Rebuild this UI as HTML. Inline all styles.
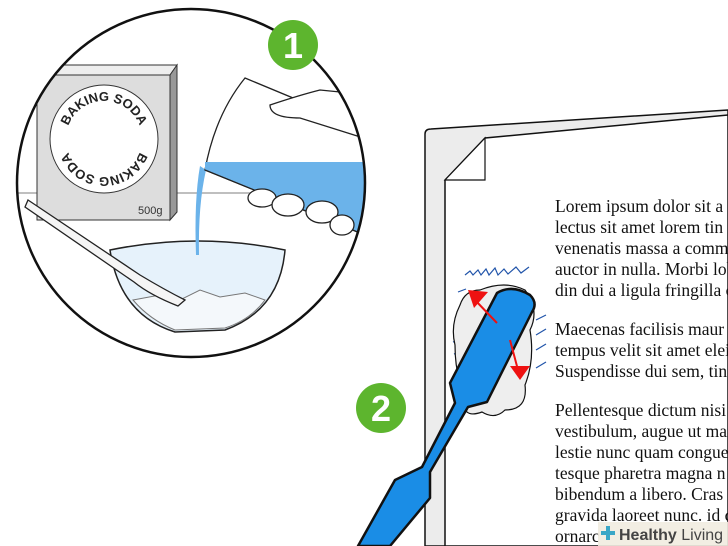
<!DOCTYPE html>
<html><head><meta charset="utf-8"><style>
html,body{margin:0;padding:0;background:#fff}
svg{display:block}
.t{font-family:"Liberation Serif",serif;font-size:17.5px;fill:#111}
</style></head><body>
<svg width="728" height="546" viewBox="0 0 728 546" xmlns="http://www.w3.org/2000/svg">
<defs><clipPath id="c"><circle cx="191" cy="183" r="174"/></clipPath></defs>
<g clip-path="url(#c)">
<rect x="0" y="0" width="400" height="400" fill="#fff"/>
<line x1="0" y1="193" x2="400" y2="193" stroke="#aaa" stroke-width="1.5"/>
<polygon points="37,75 170,75 177,65 44,65" fill="#eee" stroke="#333" stroke-width="1"/>
<polygon points="170,75 177,65 177,212 170,220" fill="#999" stroke="#333" stroke-width="1"/>
<rect x="37" y="75" width="133" height="145" fill="#ddd" stroke="#333" stroke-width="1"/>
<circle cx="104" cy="139" r="54" fill="#fff" stroke="#333" stroke-width="1"/>
<path id="arcT" d="M66,139 A38,38 0 0 1 142,139" fill="none"/>
<path id="arcB" d="M142,139 A38,38 0 0 1 66,139" fill="none"/>
<text font-family="Liberation Sans,sans-serif" font-size="13" font-weight="bold" fill="#222"><textPath href="#arcT" startOffset="50%" text-anchor="middle">BAKING SODA</textPath></text>
<text font-family="Liberation Sans,sans-serif" font-size="13" font-weight="bold" fill="#222"><textPath href="#arcB" startOffset="50%" text-anchor="middle">BAKING SODA</textPath></text>
<text x="138" y="214" font-family="Liberation Sans,sans-serif" font-size="11" fill="#333">500g</text>
<path d="M110,250 Q198,232 285,250 Q280,310 225,330 L175,332 Q120,315 110,250 Z" fill="#e6f2fb" stroke="#222" stroke-width="1.5"/>
<path d="M133,300 L160,295 L180,300 L200,290 L220,297 L245,293 L265,300 Q250,320 225,328 L175,330 Q150,320 133,300Z" fill="#f4f8fb" stroke="#777" stroke-width="1"/>
<path d="M28,200 L140,275 Q165,290 185,300 L178,306 Q150,295 134,282 L25,207 Z" fill="#f5f5f5" stroke="#222" stroke-width="1.3"/>
<path d="M200,166 Q194,200 196,255 L199,255 Q198,205 206,170 Z" fill="#6bb3ea"/>
<path d="M245,78 L370,130 L365,235 L205,170 Q215,115 245,78Z" fill="#fff" stroke="#222" stroke-width="1.3"/>
<path d="M205,162 L365,162 L365,235 L205,170 Z" fill="#6bb3ea"/>
<path d="M205,170 L365,235" stroke="#222" stroke-width="1.3"/>
<path d="M270,105 Q300,95 320,90 L370,95 L370,140 L300,118 Q270,118 270,105Z" fill="#fff" stroke="#222" stroke-width="1.3"/>
<ellipse cx="262" cy="198" rx="14" ry="9" fill="#fff" stroke="#222" stroke-width="1.3"/>
<ellipse cx="288" cy="205" rx="16" ry="11" fill="#fff" stroke="#222" stroke-width="1.3"/>
<ellipse cx="322" cy="212" rx="16" ry="11" fill="#fff" stroke="#222" stroke-width="1.3"/>
<ellipse cx="342" cy="225" rx="12" ry="10" fill="#fff" stroke="#222" stroke-width="1.3"/>
</g>
<circle cx="191" cy="183" r="174" fill="none" stroke="#111" stroke-width="2.5"/>
<circle cx="293" cy="45" r="25" fill="#5db52e"/>
<text x="293" y="58" text-anchor="middle" font-family="Liberation Sans,sans-serif" font-size="36" font-weight="bold" fill="#fff">1</text>
<path d="M425,546 L425,134 Q425,129 431,129 L728,110 L728,546Z" fill="#ececec" stroke="#111" stroke-width="1.5"/>
<path d="M445,546 L445,180 L485,138 L728,115 L728,546Z" fill="#fff" stroke="#111" stroke-width="1.5"/>
<path d="M445,180 L485,180 L485,138 Z" fill="#fff" stroke="#111" stroke-width="1.2"/>
<g class="t">
<text x="555" y="212">Lorem ipsum dolor sit a</text>
<text x="555" y="233">lectus sit amet lorem tin</text>
<text x="555" y="254">venenatis massa a comm</text>
<text x="555" y="275">auctor in nulla. Morbi lob</text>
<text x="555" y="296">din dui a ligula fringilla c</text>
<text x="555" y="335">Maecenas facilisis maur</text>
<text x="555" y="356">tempus velit sit amet elei</text>
<text x="555" y="377">Suspendisse dui sem, tinc</text>
<text x="555" y="416">Pellentesque dictum nisi</text>
<text x="555" y="437">vestibulum, augue ut max</text>
<text x="555" y="458">lestie nunc quam congue</text>
<text x="555" y="479">tesque pharetra magna n</text>
<text x="555" y="500">bibendum a libero. Cras</text>
<text x="555" y="521">gravida laoreet nunc. id c</text>
<text x="555" y="542">ornarc</text>
</g>
<path d="M465,275 l5,-4 l3,4 l5,-5 l3,5 l5,-6 l3,6 l6,-7 l3,7 l6,-6 l4,5 l8,-7 l5,6 l8,-6" fill="none" stroke="#2255aa" stroke-width="1.2"/>
<g stroke="#2255aa" stroke-width="1.2" fill="none"><path d="M536,320 l10,-5"/><path d="M536,335 l10,-6"/><path d="M536,350 l10,-6"/><path d="M536,368 l10,-6"/><path d="M458,292 l8,-3"/><path d="M453,342 l7,-2"/><path d="M454,354 l6,-2"/></g>
<path d="M480,290 Q505,280 525,290 Q540,310 530,330 Q535,360 525,385 Q528,410 505,410 Q495,420 482,412 Q460,420 465,395 Q455,375 455,345 Q450,325 460,305 Q465,290 480,290Z" fill="#eee" stroke="#111" stroke-width="1.2"/>
<path d="M497,293 Q512,284 530,295 Q538,303 532,312 L487,402 L468,407 L430,472 L430,498 L390,546 L358,546 L395,480 L422,467 L455,403 L450,383 Z" fill="#1a8de6" stroke="#111" stroke-width="2.5" stroke-linejoin="round"/>
<g fill="#e11" stroke="#e11">
<path d="M497,323 L475,300" stroke-width="2"/>
<polygon points="468,290 488,292 474,308" stroke="none"/>
<path d="M510,340 L518,370" stroke-width="2"/>
<polygon points="510,366 530,366 520,380" stroke="none"/>
</g>
<circle cx="381" cy="408" r="25" fill="#5db52e"/>
<text x="381" y="421" text-anchor="middle" font-family="Liberation Sans,sans-serif" font-size="36" font-weight="bold" fill="#fff">2</text>
<rect x="598" y="522" width="130" height="24" fill="#f1ece0" opacity="0.9"/>
<path d="M601,533 h14 M608,526 v14" stroke="#3aa7c7" stroke-width="4"/>
<text x="619" y="540" font-family="Liberation Sans,sans-serif" font-size="16" fill="#444"><tspan font-weight="bold">Healthy</tspan> Living</text>
</svg>
</body></html>
